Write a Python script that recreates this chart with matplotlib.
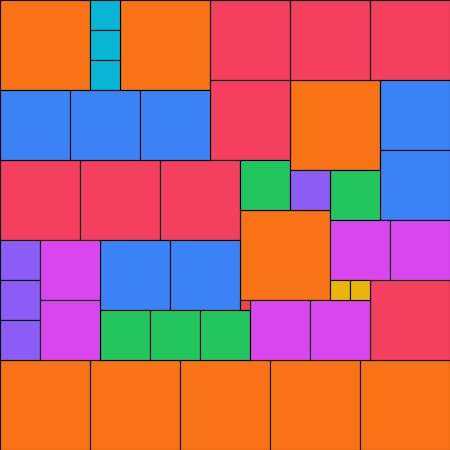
import matplotlib.pyplot as plt
from matplotlib.patches import Rectangle

# square packing: left, top, side, colour group
xs = [0, 120, 290, 240, 0, 90, 180, 270, 360,
      90, 90, 90,
      210, 290, 370, 210, 0, 80, 160, 370,
      0, 70, 140, 380, 380, 100, 170,
      240, 330, 100, 150, 200,
      290, 0, 0, 0,
      40, 40, 330, 390, 250, 310,
      330, 350,
      240]
ys = [0, 0, 80, 210, 360, 360, 360, 360, 360,
      0, 30, 60,
      0, 0, 0, 80, 160, 160, 160, 280,
      90, 90, 90, 80, 150, 240, 240,
      160, 170, 310, 310, 310,
      170, 240, 280, 320,
      240, 300, 220, 220, 300, 300,
      280, 280,
      300]
sizes = [90] * 9 + [30] * 3 + [80] * 8 + [70] * 7 + [50] * 5 + [40] * 4 + [60] * 6 + [20] * 2 + [10]
groups = (['orange'] * 9 + ['cyan'] * 3 + ['red'] * 8 + ['blue'] * 7 + ['green'] * 5
          + ['purple'] * 4 + ['magenta'] * 6 + ['yellow'] * 2 + ['red2'])

palette = {'orange': '#F97316', 'cyan': '#06B6D4', 'red': '#F43F5E', 'blue': '#3B82F6',
           'green': '#22C55E', 'purple': '#8B5CF6', 'magenta': '#D946EF',
           'yellow': '#EAB308', 'red2': '#EF4444'}

fig = plt.figure(figsize=(4.5, 4.5), dpi=100)
ax = fig.add_axes([0, 0, 1, 1])
for x, y, s, g in zip(xs, ys, sizes, groups):
    ax.add_patch(Rectangle((x, y), s, s, facecolor=palette[g], edgecolor='black', linewidth=0.8))
ax.set_xlim(0, 450)
ax.set_ylim(450, 0)
ax.axis('off')
fig.savefig('out.png', dpi=100)
